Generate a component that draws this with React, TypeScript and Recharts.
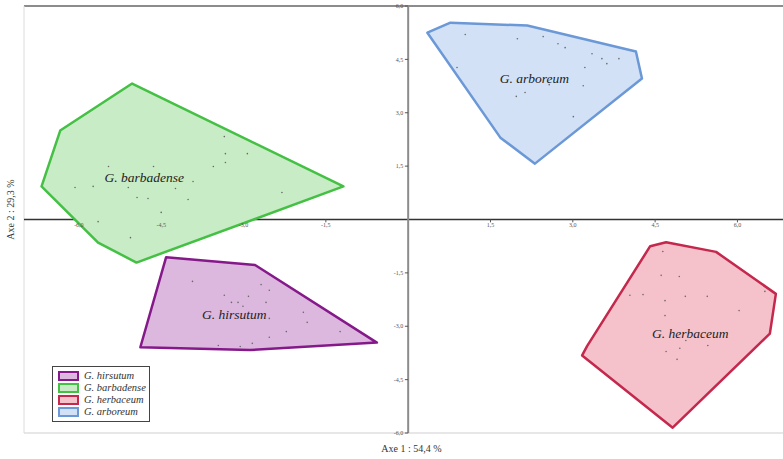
import React from "react";
import { Legend, ReferenceDot, ReferenceLine, Scatter, ScatterChart, XAxis, YAxis } from "recharts";

// hull vertices (axe 1, axe 2)
const hirsutumHull = [
  { x: -4.41, y: -1.06 }, { x: -2.79, y: -1.28 }, { x: -0.57, y: -3.46 },
  { x: -2.88, y: -3.67 }, { x: -4.88, y: -3.59 },
];
const barbadenseHull = [
  { x: -5.03, y: 3.82 }, { x: -1.18, y: 0.93 }, { x: -4.95, y: -1.21 },
  { x: -5.65, y: -0.65 }, { x: -6.68, y: 0.93 }, { x: -6.34, y: 2.5 },
];
const herbaceumHull = [
  { x: 4.41, y: -0.75 }, { x: 4.7, y: -0.64 }, { x: 5.61, y: -0.91 },
  { x: 6.7, y: -2.09 }, { x: 6.59, y: -3.21 }, { x: 4.82, y: -5.85 },
  { x: 3.17, y: -3.82 }, { x: 3.26, y: -3.56 },
];
const arboreumHull = [
  { x: 0.35, y: 5.25 }, { x: 0.77, y: 5.53 }, { x: 2.17, y: 5.45 },
  { x: 4.15, y: 4.72 }, { x: 4.26, y: 3.96 }, { x: 2.31, y: 1.57 },
  { x: 1.68, y: 2.3 },
];

// individual accessions
const hirsutumPts = [
  { x: -3.93, y: -1.74 }, { x: -2.68, y: -1.83 }, { x: -2.53, y: -1.99 },
  { x: -3.35, y: -2.13 }, { x: -2.91, y: -2.16 }, { x: -3.22, y: -2.33 },
  { x: -3.1, y: -2.33 }, { x: -3.01, y: -2.44 }, { x: -2.59, y: -2.33 },
  { x: -1.91, y: -2.61 }, { x: -1.84, y: -2.89 }, { x: -2.53, y: -2.78 },
  { x: -2.22, y: -3.15 }, { x: -2.53, y: -3.31 }, { x: -1.24, y: -3.15 },
  { x: -2.84, y: -3.48 }, { x: -3.06, y: -3.57 }, { x: -3.46, y: -3.54 },
];
const barbadensePts = [
  { x: -3.35, y: 2.33 }, { x: -3.33, y: 1.85 }, { x: -2.93, y: 1.85 },
  { x: -3.33, y: 1.6 }, { x: -3.55, y: 1.49 }, { x: -4.64, y: 1.49 },
  { x: -5.46, y: 1.49 }, { x: -3.92, y: 1.07 }, { x: -4.24, y: 0.87 },
  { x: -2.3, y: 0.76 }, { x: -6.07, y: 0.9 }, { x: -5.74, y: 0.93 },
  { x: -5.1, y: 0.9 }, { x: -4.94, y: 0.62 }, { x: -4.74, y: 0.59 },
  { x: -4.01, y: 0.56 }, { x: -4.5, y: 0.2 }, { x: -5.65, y: -0.06 },
  { x: -5.06, y: -0.51 },
];
const herbaceumPts = [
  { x: 4.64, y: -0.9 }, { x: 4.61, y: -1.57 }, { x: 4.94, y: -1.6 },
  { x: 4.04, y: -2.13 }, { x: 4.28, y: -2.11 }, { x: 4.68, y: -2.28 },
  { x: 5.05, y: -2.16 }, { x: 5.45, y: -2.16 }, { x: 6.5, y: -2.02 },
  { x: 6.03, y: -2.56 }, { x: 4.68, y: -2.7 }, { x: 5.06, y: -3.4 },
  { x: 5.46, y: -3.54 }, { x: 4.95, y: -3.62 }, { x: 4.7, y: -3.71 },
  { x: 4.9, y: -3.93 },
];
const arboreumPts = [
  { x: 1.04, y: 5.2 }, { x: 1.99, y: 5.08 }, { x: 2.46, y: 5.14 },
  { x: 2.73, y: 4.94 }, { x: 2.86, y: 4.83 }, { x: 0.89, y: 4.27 },
  { x: 3.35, y: 4.66 }, { x: 3.53, y: 4.52 }, { x: 3.84, y: 4.52 },
  { x: 3.62, y: 4.38 }, { x: 3.22, y: 4.27 }, { x: 2.13, y: 3.57 },
  { x: 1.97, y: 3.46 }, { x: 3.19, y: 3.76 }, { x: 2.57, y: 3.79 },
  { x: 3.01, y: 2.89 },
];

const groupLabels = [
  { x: -4.81, y: 1.17, name: "G. barbadense" },
  { x: 2.3, y: 3.95, name: "G. arboreum" },
  { x: -3.17, y: -2.68, name: "G. hirsutum" },
  { x: 5.14, y: -3.19, name: "G. herbaceum" },
];

const xTicks = [-6, -4.5, -3, -1.5, 1.5, 3, 4.5, 6];
const yTicks = [6, 4.5, 3, 1.5, -1.5, -3, -4.5, -6];

const groups = [
  { name: "G. hirsutum", hull: hirsutumHull, pts: hirsutumPts, fill: "#dcb8df", stroke: "#85198a" },
  { name: "G. barbadense", hull: barbadenseHull, pts: barbadensePts, fill: "#c8ecc5", stroke: "#44c044" },
  { name: "G. herbaceum", hull: herbaceumHull, pts: herbaceumPts, fill: "#f5c2cc", stroke: "#c4284c" },
  { name: "G. arboreum", hull: arboreumHull, pts: arboreumPts, fill: "#d2e1f6", stroke: "#6b98d6" },
];

const SERIF = '"Liberation Serif", "Times New Roman", serif';
const fmt = (v: number) => v.toFixed(1).replace(".", ",");

const hidden = () => <g />;

const renderLegend = () => (
  <div
    style={{
      width: 91,
      border: "1px solid #444",
      background: "#fff",
      padding: "3px 0 3px 5px",
      fontFamily: SERIF,
      fontStyle: "italic",
      fontSize: 10.5,
      color: "#333",
      lineHeight: "12px",
    }}
  >
    {groups.map((g) => (
      <div key={g.name} style={{ display: "flex", alignItems: "center" }}>
        <span
          style={{
            display: "inline-block",
            width: 17,
            height: 6,
            background: g.fill,
            border: `2px solid ${g.stroke}`,
            marginRight: 5,
          }}
        />
        {g.name}
      </div>
    ))}
  </div>
);

export default function App() {
  return (
    <div style={{ position: "absolute", left: 0, top: 0, width: 783, height: 459, background: "#fff" }}>
      <ScatterChart width={783} height={459} margin={{ top: 6, right: 0, bottom: 0, left: 0 }}>
        <XAxis
          type="number"
          dataKey="x"
          domain={[-7, 6.83]}
          allowDataOverflow
          height={26}
          tick={false}
          tickLine={false}
          axisLine={false}
          label={(p: any) => {
            const vb = p.viewBox || { x: 24, y: 433, width: 759, height: 26 };
            return (
              <text x={vb.x + vb.width / 2 + 8} y={vb.y + 19} textAnchor="middle" fontFamily={SERIF} fontSize={10} fill="#333">
                Axe 1 : 54,4 %
              </text>
            );
          }}
        />
        <YAxis
          type="number"
          dataKey="y"
          domain={[-6, 6]}
          allowDataOverflow
          width={24}
          tick={false}
          tickLine={false}
          axisLine={false}
          label={(p: any) => {
            const vb = p.viewBox || { x: 0, y: 6, width: 24, height: 427 };
            const cx = vb.x + 14;
            const cy = vb.y + vb.height / 2 - 10;
            return (
              <text x={cx} y={cy} transform={`rotate(-90, ${cx}, ${cy})`} textAnchor="middle" fontFamily={SERIF} fontSize={10} fill="#333">
                Axe 2 : 29,3 %
              </text>
            );
          }}
        />

        {/* frame */}
        <ReferenceLine y={6} stroke="#666" strokeWidth={1.5} />
        <ReferenceLine y={-6} stroke="#cfcfcf" strokeWidth={1} />
        <ReferenceLine x={-7} stroke="#dcdcdc" strokeWidth={1} />

        {groups.map((g) => (
          <Scatter
            key={g.name + "-hull"}
            data={g.hull}
            shape={hidden}
            line={{ fill: g.fill, stroke: g.stroke, strokeWidth: 2.5, strokeLinejoin: "round" }}
            lineJointType="linearClosed"
            legendType="none"
            isAnimationActive={false}
          />
        ))}

        {/* axes through the origin */}
        <ReferenceLine y={0} stroke="#333" strokeWidth={1.5} />
        <ReferenceLine x={0} stroke="#8c8c8c" strokeWidth={2} />
        {xTicks.map((t) => (
          <ReferenceLine key={"xt" + t} segment={[{ x: t, y: 0 }, { x: t, y: -0.08 }]} stroke="#555" />
        ))}
        {yTicks.map((t) => (
          <ReferenceLine key={"yt" + t} segment={[{ x: 0, y: t }, { x: -0.06, y: t }]} stroke="#555" />
        ))}
        {xTicks.map((t) => (
          <ReferenceDot
            key={"xl" + t}
            x={t}
            y={0}
            r={0}
            label={{ value: fmt(t), position: "bottom", offset: 3, fontSize: 6, fill: "#555", fontFamily: SERIF }}
          />
        ))}
        {yTicks.map((t) => (
          <ReferenceDot
            key={"yl" + t}
            x={0}
            y={t}
            r={0}
            label={{ value: fmt(t), position: "left", offset: 5, fontSize: 6, fill: "#555", fontFamily: SERIF }}
          />
        ))}

        {groups.map((g) => (
          <Scatter
            key={g.name + "-pts"}
            data={g.pts}
            legendType="none"
            isAnimationActive={false}
            shape={(p: any) => <circle cx={p.cx} cy={p.cy} r={0.8} fill="#6a6a6a" />}
          />
        ))}

        <Scatter
          data={groupLabels}
          legendType="none"
          isAnimationActive={false}
          shape={(p: any) => (
            <text
              x={p.cx}
              y={p.cy}
              textAnchor="middle"
              dominantBaseline="central"
              fontFamily={SERIF}
              fontStyle="italic"
              fontSize={13.5}
              fill="#222"
            >
              {p.payload.name}
            </text>
          )}
        />

        <Legend
          content={renderLegend}
          layout="vertical"
          align="center"
          verticalAlign="middle"
          wrapperStyle={{ left: 52, top: 366, width: "auto" }}
        />
      </ScatterChart>
    </div>
  );
}
